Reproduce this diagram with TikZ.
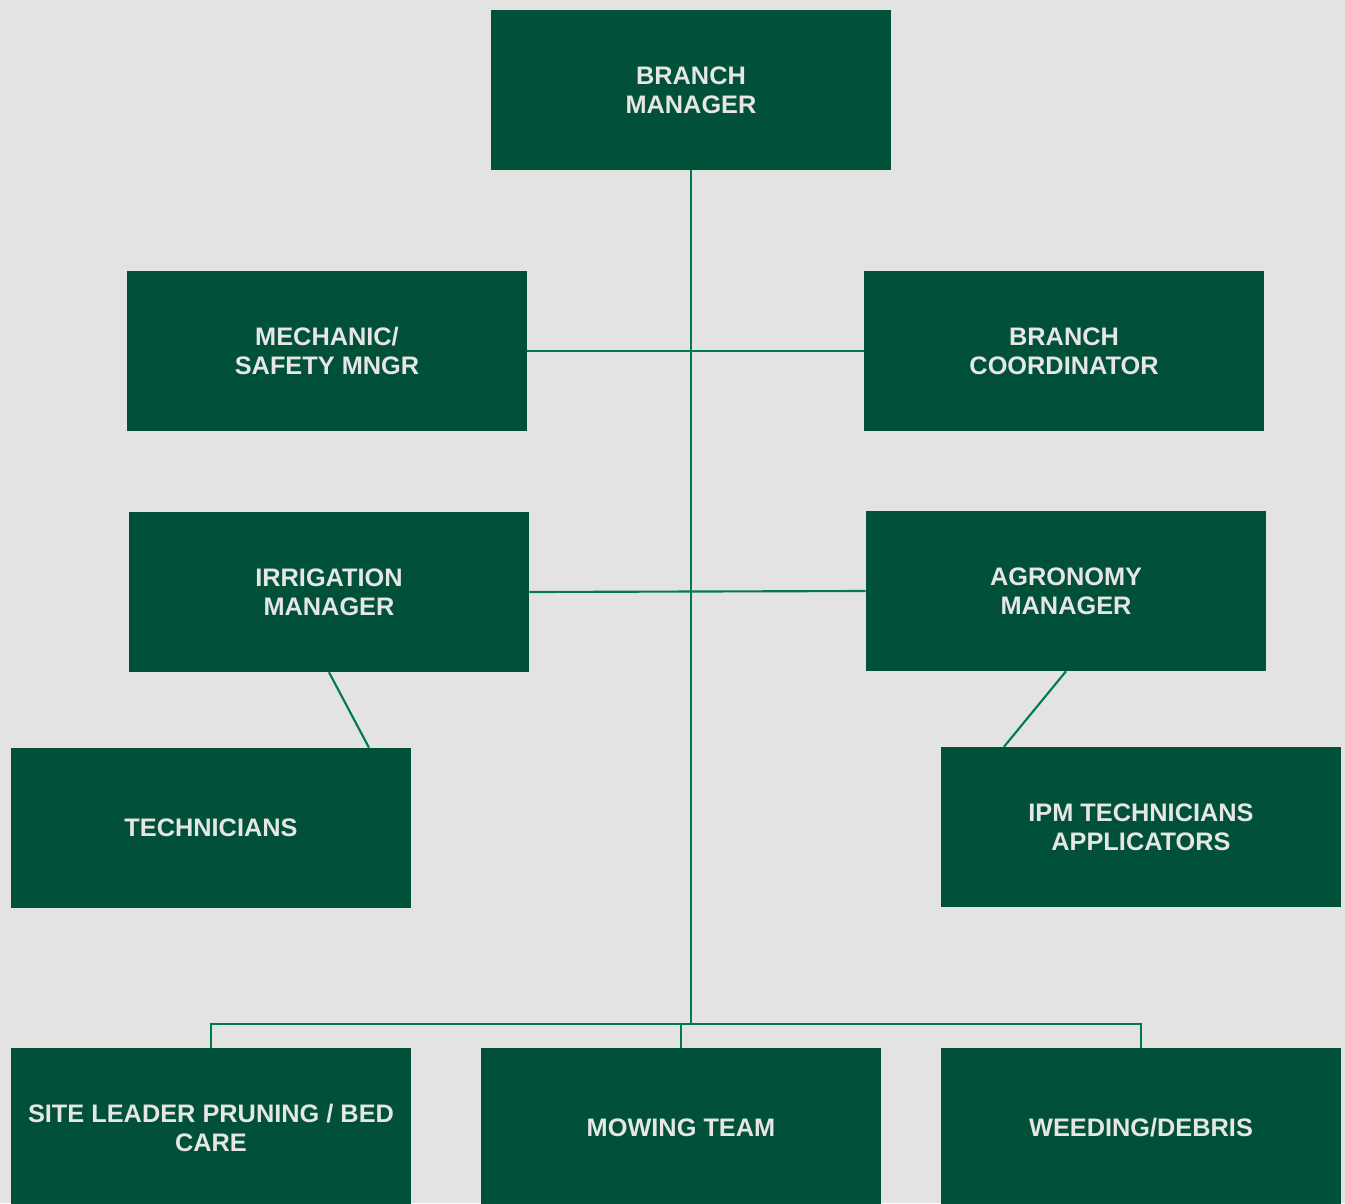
\documentclass[tikz,border=0pt]{standalone}
\usepackage{fontspec}
\setmainfont{Liberation Sans}
\usetikzlibrary{calc,positioning}
\definecolor{boxgreen}{HTML}{00503A}
\definecolor{linegreen}{HTML}{007A55}
\definecolor{paper}{HTML}{E3E3E1}
\definecolor{boxtext}{HTML}{E6E6E4}

\begin{document}
\begin{tikzpicture}[x=0.75pt,y=-0.75pt,
  role/.style={rectangle,fill=boxgreen,minimum width=300pt,minimum height=120pt,inner sep=0pt,align=center,text=boxtext,font=\bfseries\fontsize{19}{22}\selectfont},
  link/.style={draw=linegreen,line width=1.6pt}]
	\useasboundingbox (0,0) rectangle (1345,1203);
	\fill[paper] (0,0) rectangle (1345,1203);
	\node (bm) [role] at (691,90) {BRANCH\\MANAGER};
	\node (mech) [role] at (327,351) {MECHANIC/\\SAFETY MNGR};
	\node (coord) [role] at (1064,351) {BRANCH\\COORDINATOR};
	\node (irr) [role] at (329,592) {IRRIGATION\\MANAGER};
	\node (agro) [role] at (1066,591) {AGRONOMY\\MANAGER};
	\node (tech) [role] at (211,828) {TECHNICIANS};
	\node (ipm) [role] at (1141,827) {IPM TECHNICIANS\\APPLICATORS};
	\node (site) [role] at (211,1128) {SITE LEADER PRUNING / BED\\CARE};
	\node (mow) [role] at (681,1128) {MOWING TEAM};
	\node (weed) [role] at (1141,1128) {WEEDING/DEBRIS};
	\coordinate (bar) at (691,1024);
	\draw[link] (bm.south) -- (bar);
	\draw[link] (mech.east) -- (coord.west);
	\draw[link] (irr.east) -- (agro.west);
	\draw[link] (site.north) |- (weed.north |- bar) -- (weed.north);
	\draw[link] (mow.north) -- (mow.north |- bar);
	\draw[link] (irr.south) -- ($(tech.north)+(158,0)$);
	\draw[link] (agro.south) -- ($(ipm.north)+(-137,0)$);
\end{tikzpicture}
\end{document}
